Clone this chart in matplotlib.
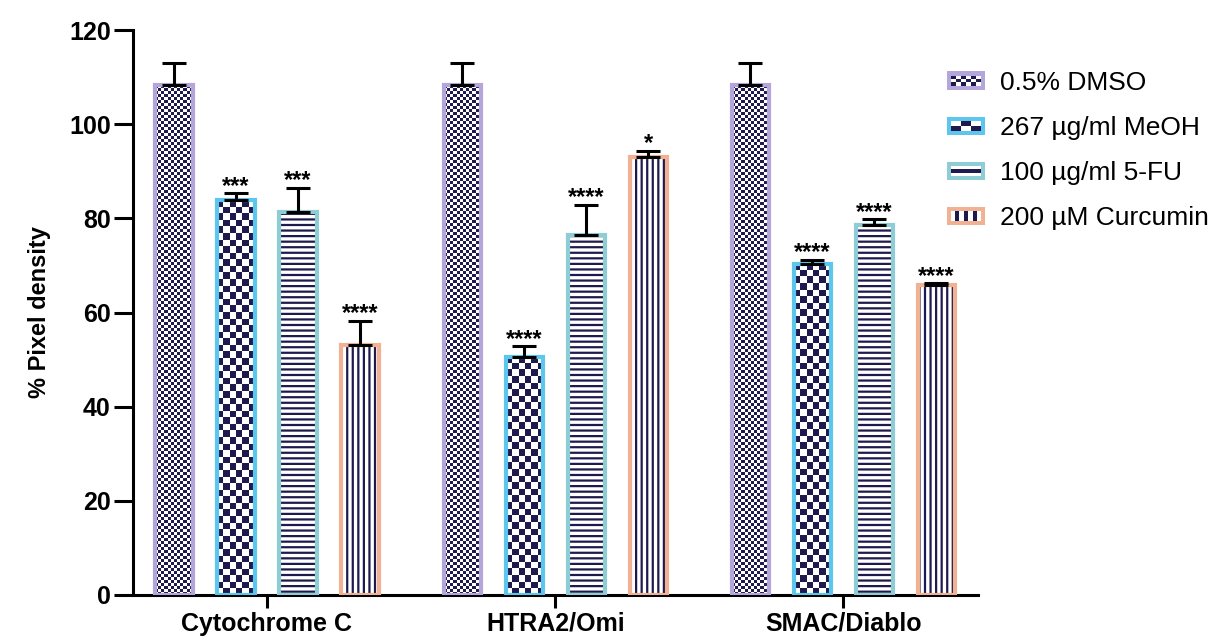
import numpy as np
import matplotlib.pyplot as plt
from matplotlib.patches import Rectangle
from matplotlib.colors import ListedColormap
from matplotlib.legend_handler import HandlerBase

# ============================================================
# === Data
# ============================================================

groups = ["Cytochrome C", "HTRA2/Omi", "SMAC/Diablo"]
treatments = ["0.5% DMSO", "267 µg/ml MeOH", "100 µg/ml 5-FU", "200 µM Curcumin"]

dmso = [108.3, 108.3, 108.3]
dmso_err = [4.7, 4.7, 4.7]
meoh = [83.8, 50.6, 70.4]
meoh_err = [1.5, 2.2, 0.8]
fu = [81.3, 76.5, 78.6]
fu_err = [5.2, 6.4, 1.2]
curcumin = [53.2, 93.0, 65.8]
curcumin_err = [5.0, 1.3, 0.4]

stars_dmso = ["", "", ""]
stars_meoh = ["***", "****", "****"]
stars_fu = ["***", "****", "****"]
stars_cur = ["****", "*", "****"]

# ============================================================
# === Style
# ============================================================

NAVY = "#1f1a4d"
EDGES = ["#b4a6da", "#5cc6ef", "#8ecdd5", "#f3b194"]
KINDS = ["fine_checker", "coarse_checker", "hlines", "vlines"]

plt.rcParams["font.family"] = ["Liberation Sans", "DejaVu Sans"]
plt.rcParams["hatch.linewidth"] = 1.6

fig = plt.figure(figsize=(12.14, 6.39), dpi=100)
ax = fig.add_axes([0.1096, 0.0689, 0.6960, 0.8841])

GROUP_STEP = 4.65
WIDTH = 0.6
ax.set_xlim(-0.66, 12.97)
ax.set_ylim(0, 120)

series = [
    (dmso, dmso_err, stars_dmso),
    (meoh, meoh_err, stars_meoh),
    (fu, fu_err, stars_fu),
    (curcumin, curcumin_err, stars_cur),
]

# pixels per data unit (for pattern cell sizes)
p0 = ax.transData.transform((0, 0))
p1 = ax.transData.transform((1, 1))
px_x = p1[0] - p0[0]
px_y = p1[1] - p0[1]

checker_cmap = ListedColormap(["white", NAVY])


def checker_image(bar, cell_px):
    x0, w, h = bar.get_x(), bar.get_width(), bar.get_height()
    nx = max(1, int(round(w * px_x / cell_px)))
    ny = max(1, int(round(h * px_y / cell_px)))
    jj, ii = np.meshgrid(np.arange(nx), np.arange(ny))
    arr = (ii + jj) % 2
    im = ax.imshow(arr, cmap=checker_cmap, extent=(x0, x0 + w, 0, h),
                   origin="lower", interpolation="nearest", aspect="auto",
                   zorder=2)
    im.set_clip_path(bar)


for k, (vals, errs, stars) in enumerate(series):
    xs = np.arange(len(groups)) * GROUP_STEP + k
    kind = KINDS[k]
    if kind in ("hlines", "vlines"):
        hatch = "---" if kind == "hlines" else "|||"
        ax.bar(xs, vals, WIDTH, facecolor="white", edgecolor=NAVY,
               linewidth=0, hatch=hatch, zorder=2)
        outline = ax.bar(xs, vals, WIDTH, fill=False, edgecolor=EDGES[k],
                         linewidth=3, zorder=3)
    else:
        outline = ax.bar(xs, vals, WIDTH, facecolor="none",
                         edgecolor=EDGES[k], linewidth=3, zorder=3)
        cell = 3.0 if kind == "fine_checker" else 6.6
        for b in outline:
            checker_image(b, cell)

    ax.errorbar(xs, vals, yerr=[np.zeros(len(vals)), errs], fmt="none",
                ecolor="black", elinewidth=2.2, capsize=8.5, capthick=2.2,
                zorder=4)

    for x, v, e, s in zip(xs, vals, errs, stars):
        if s:
            ax.annotate(s, xy=(x, v + e), xytext=(0, 0.5),
                        textcoords="offset points", ha="center",
                        va="baseline", fontsize=17, fontweight="bold",
                        zorder=5)

# ============================================================
# === Axes
# ============================================================

for side in ("top", "right"):
    ax.spines[side].set_visible(False)
for side in ("left", "bottom"):
    ax.spines[side].set_linewidth(2.2)

ax.set_yticks(np.arange(0, 121, 20))
ax.set_xticks(np.arange(len(groups)) * GROUP_STEP + 1.5)
ax.set_xticklabels(groups)
ax.tick_params(axis="both", width=2.2, labelsize=18)
ax.tick_params(axis="y", length=14, pad=2)
ax.tick_params(axis="x", length=9, pad=3)
for lbl in ax.get_xticklabels() + ax.get_yticklabels():
    lbl.set_fontweight("bold")

ax.set_ylabel("% Pixel density", fontsize=17, fontweight="bold", labelpad=13)

# ============================================================
# === Legend with custom pattern swatches
# ============================================================


class SwatchHandler(HandlerBase):
    def __init__(self, edge, kind):
        super().__init__()
        self.edge = edge
        self.kind = kind

    def create_artists(self, legend, orig_handle, xdescent, ydescent,
                       width, height, fontsize, trans):
        x0, y0 = -xdescent, -ydescent
        arts = [Rectangle((x0, y0), width, height, facecolor=self.edge,
                          edgecolor="none", transform=trans)]
        b = 3.0
        ix, iy, iw, ih = x0 + b, y0 + b, width - 2 * b, height - 2 * b
        arts.append(Rectangle((ix, iy), iw, ih, facecolor="white",
                              edgecolor="none", transform=trans))
        if self.kind in ("fine_checker", "coarse_checker"):
            nx, ny = (6, 3) if self.kind == "fine_checker" else (3, 2)
            cw, ch = iw / nx, ih / ny
            for i in range(nx):
                for j in range(ny):
                    if (i + j) % 2 == 0:
                        arts.append(Rectangle((ix + i * cw, iy + j * ch), cw, ch,
                                              facecolor=NAVY, edgecolor="none",
                                              transform=trans))
        elif self.kind == "hlines":
            arts.append(Rectangle((ix, iy + ih / 2 - 1.2), iw, 2.4,
                                  facecolor=NAVY, edgecolor="none",
                                  transform=trans))
        else:
            for f in (0.2, 0.5, 0.8):
                arts.append(Rectangle((ix + iw * f - 1.2, iy), 2.4, ih,
                                      facecolor=NAVY, edgecolor="none",
                                      transform=trans))
        return arts


handles = [Rectangle((0, 0), 1, 1) for _ in treatments]
handler_map = {h: SwatchHandler(EDGES[i], KINDS[i]) for i, h in enumerate(handles)}
fig.legend(handles, treatments, handler_map=handler_map, loc="upper left",
           bbox_to_anchor=(0.780, 0.889), frameon=False, fontsize=19,
           handlelength=1.45, handleheight=0.7, handletextpad=0.55,
           labelspacing=0.8, borderpad=0, borderaxespad=0)

fig.savefig("out.png", dpi=100)
